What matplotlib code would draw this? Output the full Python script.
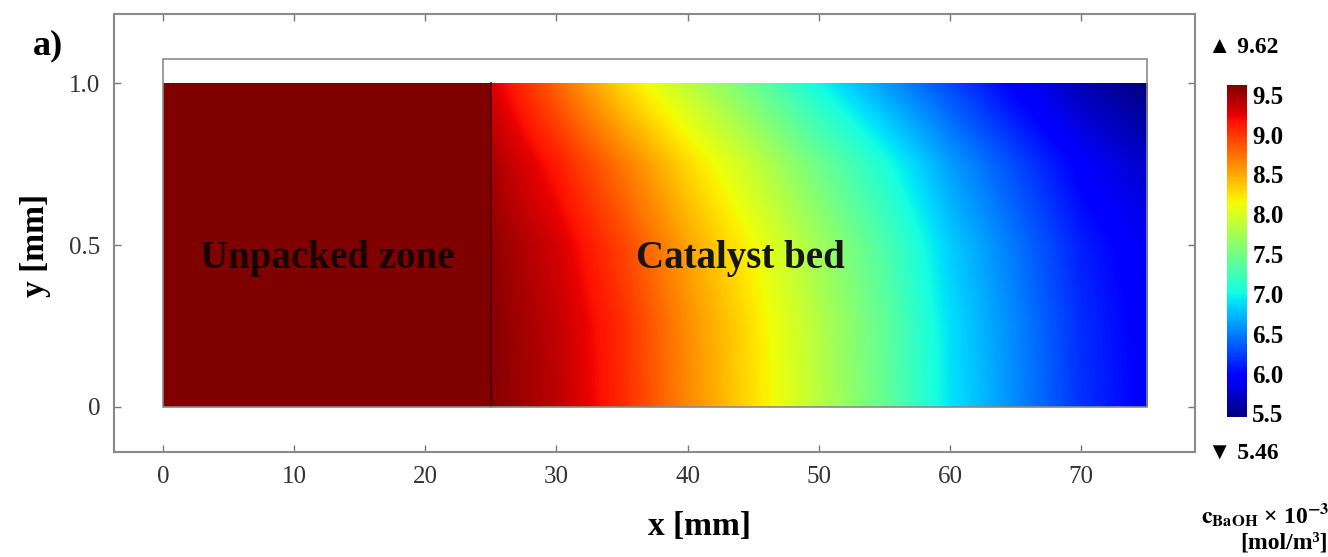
import numpy as np
import matplotlib
matplotlib.use("Agg")
import matplotlib.pyplot as plt
from matplotlib.patches import Rectangle
from matplotlib import colors, colorbar

plt.rcParams['font.family'] = ['Liberation Serif', 'DejaVu Serif']
plt.rcParams['mathtext.fontset'] = 'stix'

# concentration field (c_BaOH x 10^-3, mol/m^3)
x_bed = [25, 30, 35, 40, 45, 50, 55, 60, 65, 70, 75]
y_rows = [0.0, 0.25, 0.5, 0.75, 1.0]
c_y0 = [9.60, 9.40, 9.07, 8.64, 8.26, 7.85, 7.42, 6.92, 6.55, 6.18, 5.95]
c_y025 = [9.59, 9.38, 9.05, 8.62, 8.24, 7.82, 7.40, 6.90, 6.53, 6.16, 5.93]
c_y05 = [9.56, 9.31, 8.95, 8.52, 8.14, 7.72, 7.30, 6.82, 6.46, 6.10, 5.88]
c_y075 = [9.47, 9.13, 8.72, 8.29, 7.90, 7.47, 7.06, 6.63, 6.28, 5.94, 5.73]
c_y1 = [9.30, 8.80, 8.29, 7.87, 7.45, 7.00, 6.62, 6.28, 5.94, 5.65, 5.46]
x_unpacked = [0, 25]
c_unpacked = 9.62
c_min, c_max = 5.46, 9.62
cbar_ticks = [5.5, 6.0, 6.5, 7.0, 7.5, 8.0, 8.5, 9.0, 9.5]
x_ticks = [0, 10, 20, 30, 40, 50, 60, 70]
y_ticks = [0, 0.5, 1.0]
y_ticklabels = ["0", "0.5", "1.0"]

fig = plt.figure(figsize=(13.28, 5.57), dpi=100)
ax = fig.add_axes([0.0858, 0.1885, 0.8140, 0.7865])
norm = colors.Normalize(vmin=c_min, vmax=c_max)

# catalyst bed: grid points sit at pixel centres, image clipped to the bed
C = np.array([c_y0, c_y025, c_y05, c_y075, c_y1])
dx = x_bed[1] - x_bed[0]
dy = y_rows[1] - y_rows[0]
im = ax.imshow(C, origin='lower', cmap='jet', norm=norm, aspect='auto',
               interpolation='bilinear', interpolation_stage='data',
               extent=[x_bed[0] - dx / 2, x_bed[-1] + dx / 2,
                       y_rows[0] - dy / 2, y_rows[-1] + dy / 2])
bed = Rectangle((x_bed[0], 0), x_bed[-1] - x_bed[0], 1, transform=ax.transData,
                facecolor='none', edgecolor='none')
ax.add_patch(bed)
im.set_clip_path(bed)

Xu, Yu = np.meshgrid(x_unpacked, [0, 1])
ax.pcolormesh(Xu, Yu, np.full((1, 1), c_unpacked), cmap='jet', norm=norm)
ax.plot([25, 25], [0, 1], color='#4a0000', lw=1.2)

ax.add_patch(Rectangle((0, 0), 75, 1.075, fill=False, edgecolor='#8a8a8a', lw=1.2, zorder=3))

ax.text(12.5, 0.46, "Unpacked zone", ha='center', va='center', fontsize=28,
        fontweight='bold', color='#1a0000')
ax.text(44, 0.46, "Catalyst bed", ha='center', va='center', fontsize=28,
        fontweight='bold', color='#151515')

ax.set_xlim(-3.73, 78.66)
ax.set_ylim(-0.14, 1.215)
ax.set_xticks(x_ticks)
ax.set_yticks(y_ticks)
ax.set_yticklabels(y_ticklabels)
ax.tick_params(direction='in', length=5, width=1, color='#777777', top=True, right=True,
               labelsize=18, labelcolor='#333333', pad=10)
for s in ax.spines.values():
    s.set_color('#8a8a8a')
    s.set_linewidth(1.5)

fig.text(0.527, 0.054, "x [mm]", ha='center', va='center', fontsize=24, fontweight='bold')
fig.text(0.027, 0.56, "y [mm]", ha='center', va='center', fontsize=24, fontweight='bold',
         rotation=90)
fig.text(0.036, 0.918, "a)", ha='center', va='center', fontsize=26, fontweight='bold')

# colour legend
cax = fig.add_axes([0.9236, 0.252, 0.0151, 0.595])
cb = colorbar.ColorbarBase(cax, cmap=plt.get_cmap('jet'), norm=norm, ticks=cbar_ticks)
cb.outline.set_visible(False)
cax.tick_params(length=0, pad=4)
cax.set_yticklabels([f"{t:.1f}" for t in cbar_ticks], fontsize=18, fontweight='bold')

fig.text(0.910, 0.915, "▲ 9.62", ha='left', va='center', fontsize=17, fontweight='bold')
fig.text(0.910, 0.186, "▼ 5.46", ha='left', va='center', fontsize=17, fontweight='bold')
fig.text(0.953, 0.075, r"$\mathbf{c_{BaOH}}$ × 10$^{\mathbf{-3}}$", ha='center', va='center',
         fontsize=17, fontweight='bold')
fig.text(0.967, 0.025, "[mol/m³]", ha='center', va='center', fontsize=17, fontweight='bold')

fig.savefig("out.png", dpi=100)
